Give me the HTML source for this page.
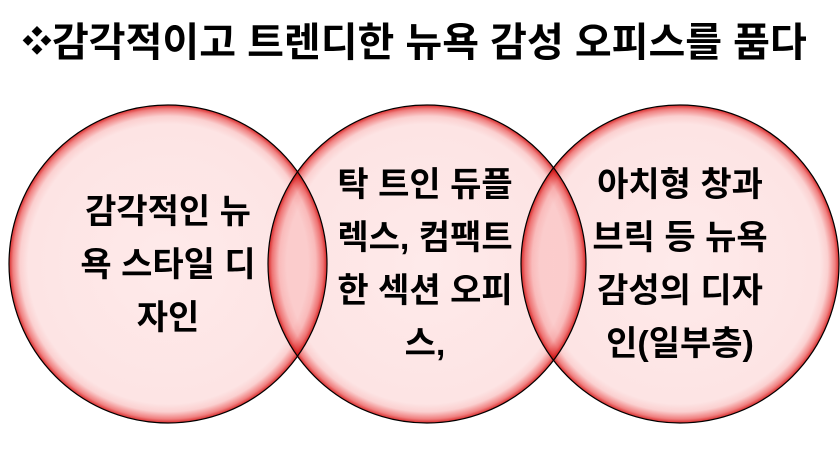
<!DOCTYPE html>
<html><head><meta charset="utf-8"><style>
html,body{margin:0;padding:0;background:#fff;}
body{width:840px;height:467px;position:relative;overflow:hidden;font-family:"Liberation Sans","Noto Sans CJK KR",sans-serif;}
.title{position:absolute;left:22px;top:10px;font-size:40px;font-weight:bold;color:#000;white-space:nowrap;}
.t{position:absolute;font-size:34px;font-weight:bold;color:#000;text-align:center;line-height:53px;white-space:nowrap;}
svg{position:absolute;left:0;top:0;}
</style></head><body>
<div class="title"><span style="font-size:30px;vertical-align:4px">❖</span>감각적이고 트렌디한 뉴욕 감성 오피스를 품다</div>
<svg width="840" height="467">
<defs>
<radialGradient id="g" cx="50%" cy="50%" r="50%">
<stop offset="0" stop-color="#feeaea"/>
<stop offset="0.88" stop-color="#fde4e4"/>
<stop offset="0.93" stop-color="#fbd0d0"/>
<stop offset="0.975" stop-color="#f08080"/>
<stop offset="1" stop-color="#d82a2a"/>
</radialGradient>
</defs>
<g style="isolation:isolate">
<ellipse cx="168" cy="264" rx="159" ry="159" fill="url(#g)" style="mix-blend-mode:multiply" stroke="#000" stroke-width="1.2"/>
<ellipse cx="427" cy="264" rx="159" ry="159" fill="url(#g)" style="mix-blend-mode:multiply" stroke="#000" stroke-width="1.2"/>
<ellipse cx="680" cy="264" rx="159" ry="159" fill="url(#g)" style="mix-blend-mode:multiply" stroke="#000" stroke-width="1.2"/>
</g>
</svg>
<div class="t" style="left:68px;width:200px;top:186px;">감각적인 뉴<br>욕 스타일 디<br>자인</div>
<div class="t" style="left:325px;width:200px;top:159px;">탁 트인 듀플<br>렉스, 컴팩트<br>한 섹션 오피<br>스,</div>
<div class="t" style="left:580px;width:200px;top:159px;">아치형 창과<br>브릭 등 뉴욕<br>감성의 디자<br>인(일부층)</div>
</body></html>
